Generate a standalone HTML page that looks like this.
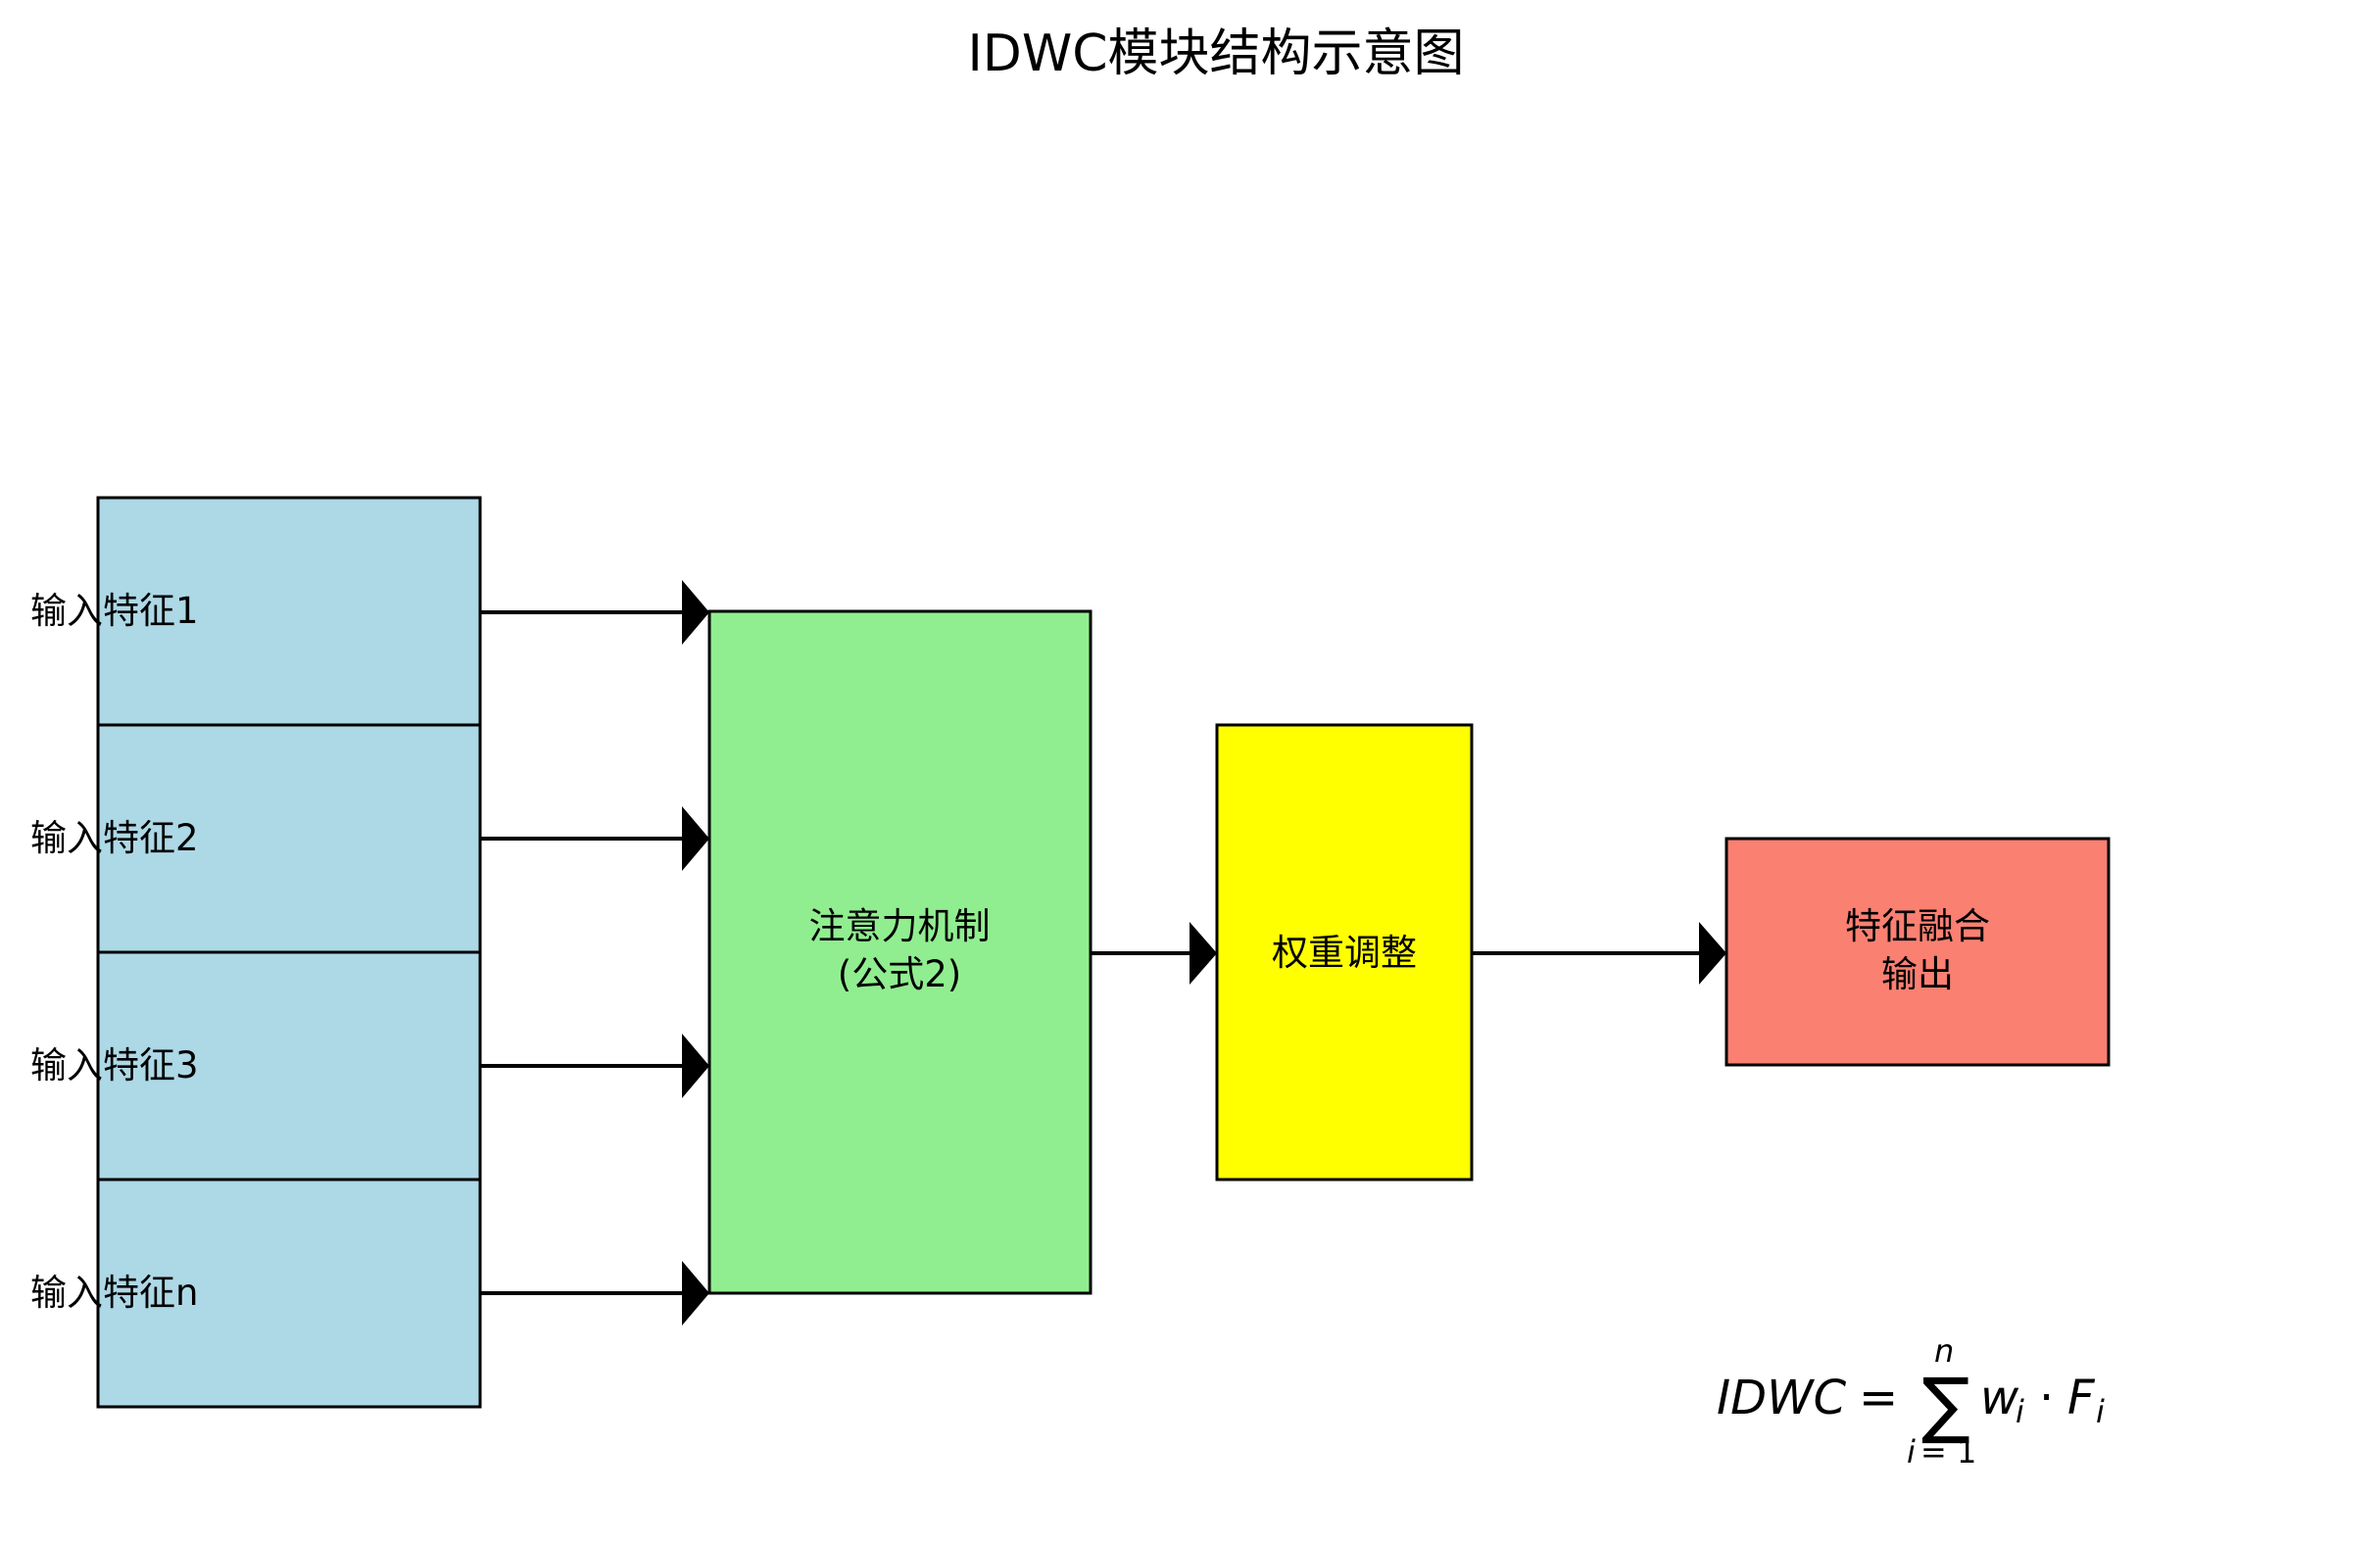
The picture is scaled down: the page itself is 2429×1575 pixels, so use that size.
<!DOCTYPE html>
<html><head><meta charset="utf-8"><style>html,body{margin:0;padding:0;background:#fff;}svg{display:block}</style></head>
<body>
<svg width="2429" height="1575" viewBox="0 0 2429 1575" xmlns="http://www.w3.org/2000/svg" font-family="'DejaVu Sans','Noto Sans CJK SC',sans-serif">
<text x="1241" y="72" font-size="52" text-anchor="middle" font-family="'DejaVu Sans','Noto Sans CJK SC',sans-serif">IDWC模块结构示意图</text>
<g stroke="#000" stroke-width="3">
<rect x="100" y="508" width="390" height="232" fill="#add8e6"/>
<rect x="100" y="740" width="390" height="232" fill="#add8e6"/>
<rect x="100" y="972" width="390" height="232" fill="#add8e6"/>
<rect x="100" y="1204" width="390" height="232" fill="#add8e6"/>
<rect x="724" y="624" width="389" height="696" fill="#90ee90"/>
<rect x="1242" y="740" width="260" height="464" fill="#ffff00"/>
<rect x="1762" y="856" width="390" height="231" fill="#fa8072"/>
<line x1="490" y1="625" x2="700" y2="625" stroke-width="4"/>
<line x1="490" y1="856" x2="700" y2="856" stroke-width="4"/>
<line x1="490" y1="1088" x2="700" y2="1088" stroke-width="4"/>
<line x1="490" y1="1320" x2="700" y2="1320" stroke-width="4"/>
<line x1="1113" y1="973" x2="1218" y2="973" stroke-width="4"/>
<line x1="1502" y1="973" x2="1738" y2="973" stroke-width="4"/>
</g>
<g fill="#000">
<polygon points="696,592 724,625 696,658"/>
<polygon points="696,823 724,856 696,889"/>
<polygon points="696,1055 724,1088 696,1121"/>
<polygon points="696,1287 724,1320 696,1353"/>
<polygon points="1214,941 1242,973 1214,1005"/>
<polygon points="1734,941 1762,973 1734,1005"/>
</g>
<g font-size="37">
<text x="31" y="636">输入特征1</text>
<text x="31" y="868">输入特征2</text>
<text x="31" y="1100">输入特征3</text>
<text x="31" y="1332">输入特征n</text>
<text x="918" y="958" text-anchor="middle">注意力机制</text>
<text x="918" y="1007" text-anchor="middle">(公式2)</text>
<text x="1372" y="985" text-anchor="middle">权重调整</text>
<text x="1957" y="958" text-anchor="middle">特征融合</text>
<text x="1957" y="1007" text-anchor="middle">输出</text>
</g>
<g font-family="'DejaVu Sans',sans-serif" font-style="italic">
<text x="1752" y="1443" font-size="48">IDWC</text>
<text x="1897" y="1443" font-size="48" font-style="normal">=</text>
<text x="1961" y="1459" font-size="74" font-style="normal">∑</text>
<text x="1974" y="1390" font-size="32">n</text>
<text x="1946" y="1493" font-size="32">i</text>
<text x="1960" y="1493" font-size="32" font-style="normal">= 1</text>
<text x="2021" y="1443" font-size="48">w</text>
<text x="2057" y="1452" font-size="32">i</text>
<text x="2081" y="1443" font-size="48" font-style="normal">·</text>
<text x="2110" y="1443" font-size="48">F</text>
<text x="2139" y="1452" font-size="32">i</text>
</g>
</svg>
</body></html>
